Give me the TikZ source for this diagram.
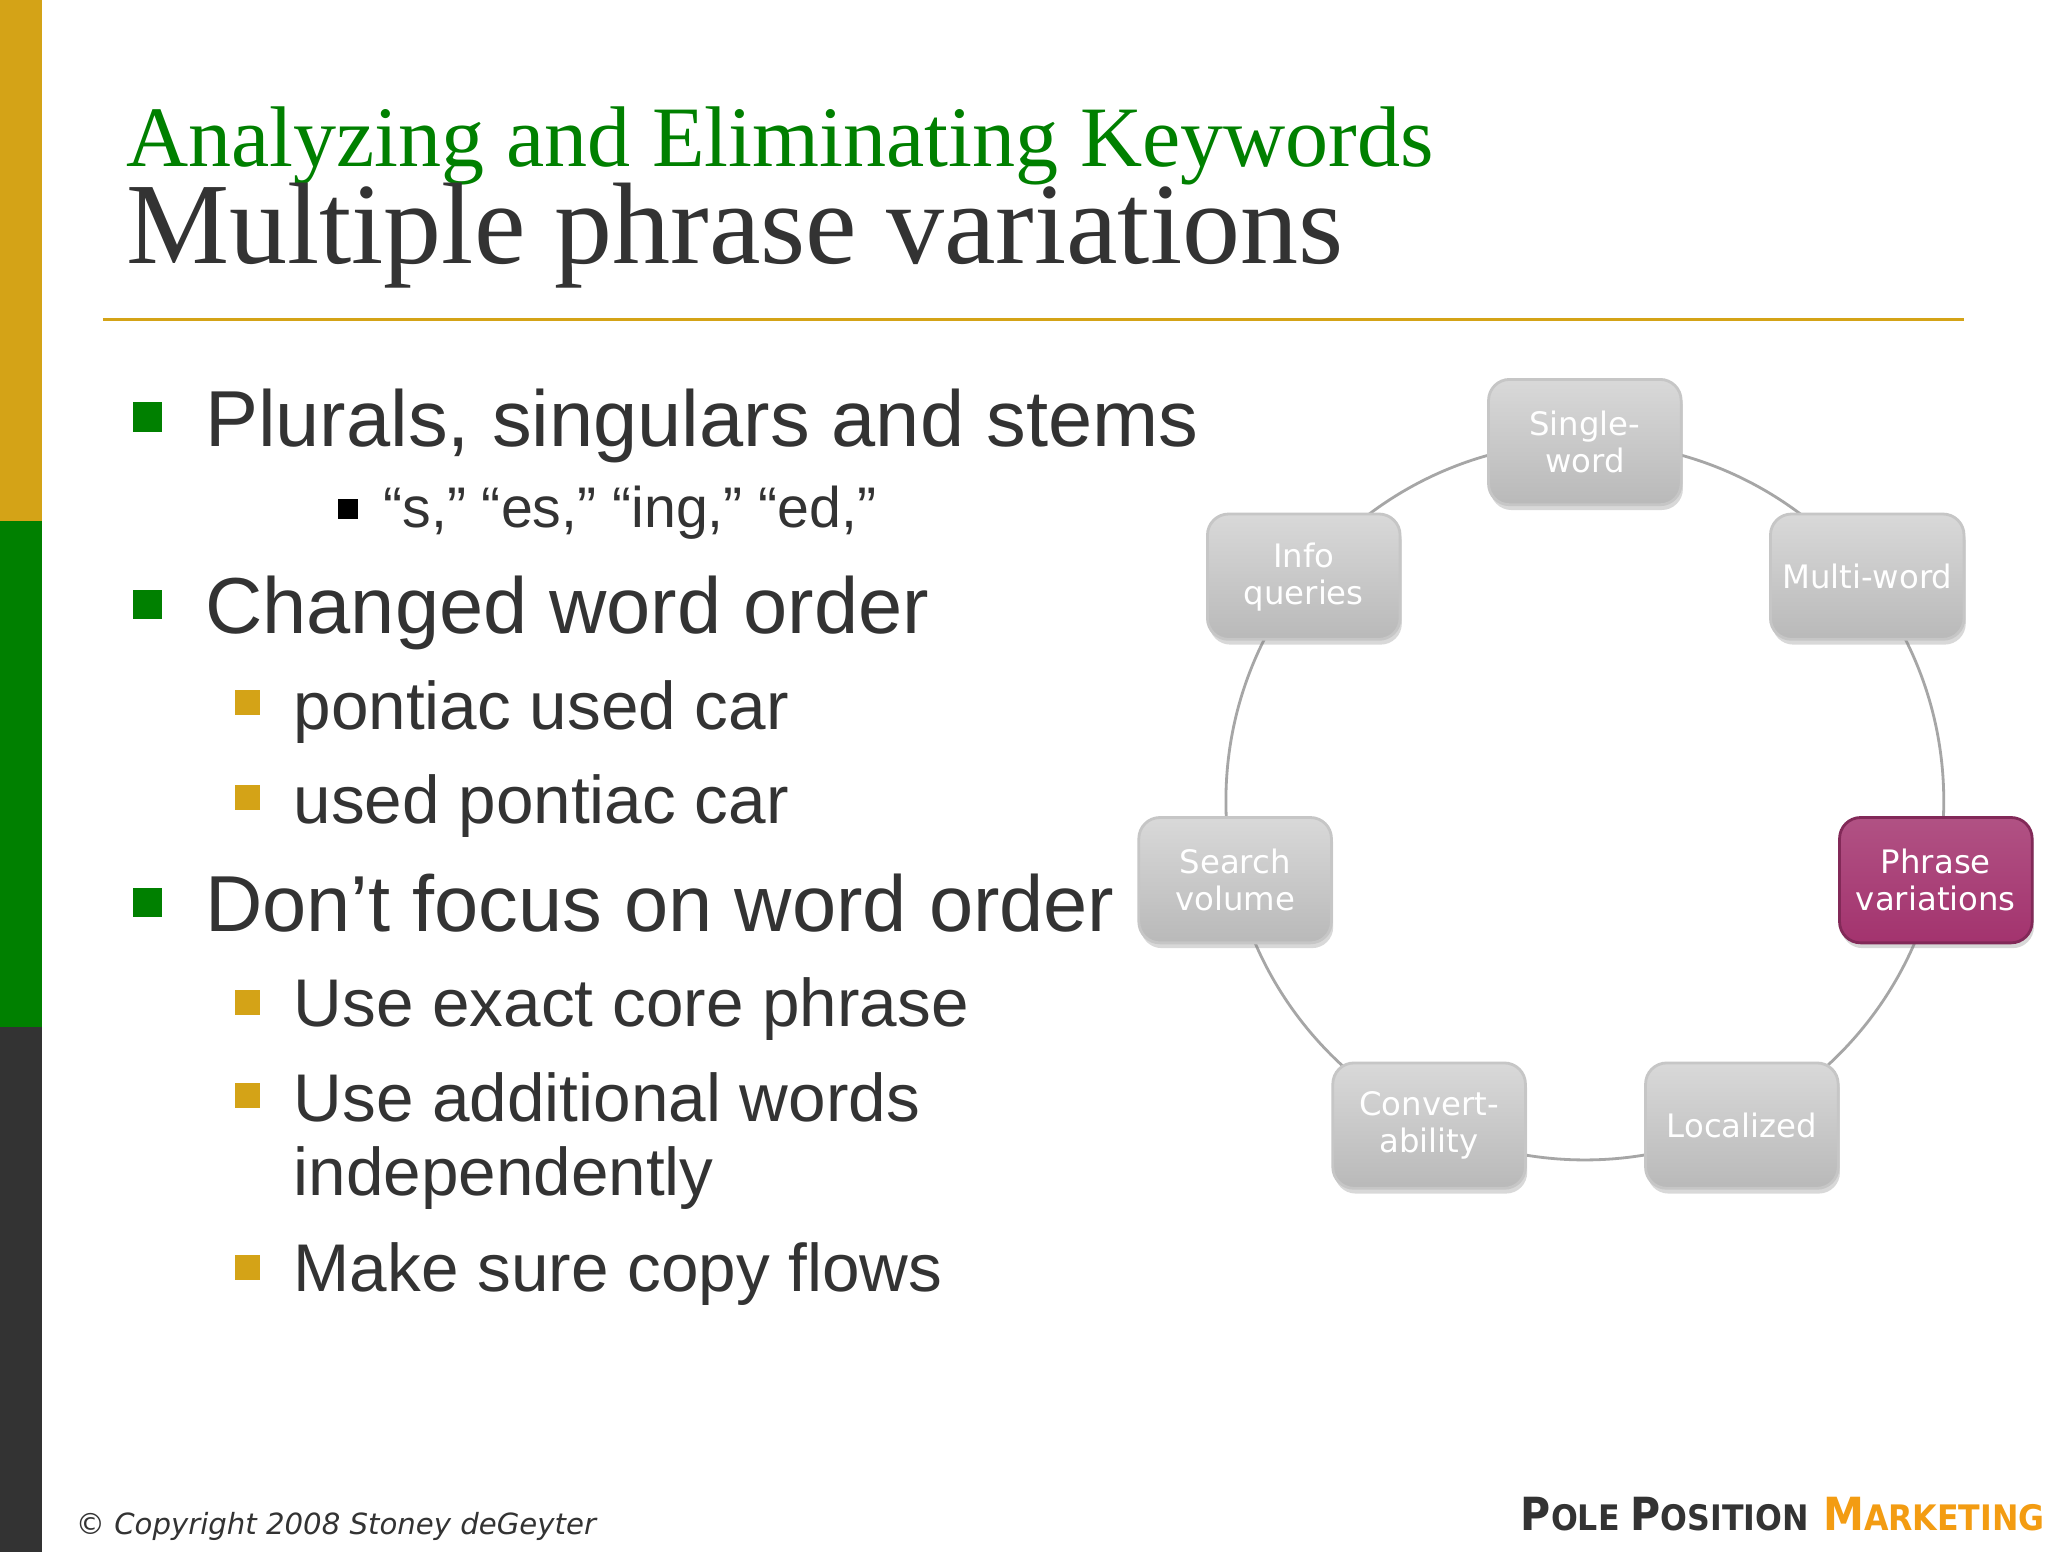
\documentclass[tikz,border=0pt]{standalone}
\usepackage{fontspec}
\setmainfont{Liberation Sans}
\newfontfamily\serifx{Liberation Serif}
\newfontfamily\dejav{DejaVu Sans}
\newfontfamily\logof{DejaVu Sans Condensed}
\usetikzlibrary{shadows}
\definecolor{gold}{HTML}{D4A317}
\definecolor{ggreen}{HTML}{008000}
\definecolor{dark}{HTML}{333333}
\definecolor{mag}{HTML}{A3336E}
\definecolor{orng}{HTML}{F39C12}
\begin{document}
\begin{tikzpicture}[x=0.013196cm,y=-0.013196cm,
  box/.style={rounded corners=6pt,minimum width=146*0.13196cm/10,minimum height=95*0.13196cm/10,
    top color=gray!30,bottom color=gray!55,draw=gray!45,line width=0.8pt,
    text=white,font=\dejav\fontsize{9.2pt}{10.5pt}\selectfont,align=center,
    drop shadow={opacity=0.3,shadow xshift=0.5pt,shadow yshift=-1.5pt}},
  pbox/.style={box,top color=mag!85,bottom color=mag,draw=mag!80!black},
  big/.style={anchor=base west,text=dark,font=\fontsize{22.6pt}{25pt}\selectfont,inner sep=0},
  mid/.style={anchor=base west,text=dark,font=\fontsize{19.2pt}{21pt}\selectfont,inner sep=0}]
\useasboundingbox (0,0) rectangle (1552,1176);
\fill[white] (0,0) rectangle (1552,1176);
\fill[gold] (0,0) rectangle (32,395);
\fill[ggreen] (0,395) rectangle (32,778);
\fill[dark] (0,778) rectangle (32,1176);
\node[anchor=base west,inner sep=0,text=ggreen,font=\serifx\fontsize{24.5pt}{26pt}\selectfont] (t1) at (95,126) {Analyzing and Eliminating Keywords};
\node[anchor=base west,inner sep=0,text=dark,font=\serifx\fontsize{33pt}{36pt}\selectfont] (t2) at (95,200) {Multiple phrase variations};
\draw[gold,line width=0.8pt] (78,242) -- (1488,242);
\foreach \y in {316,458,684} \fill[ggreen] (101,\y-11) rectangle +(22,22);
\fill[black] (256,378) rectangle +(15,15);
\foreach \y in {533,605,760,831,961} \fill[gold] (178,\y-10) rectangle +(19,19);
\node[big] (b1) at (155,338) {Plurals, singulars and stems};
\node[anchor=base west,inner sep=0,text=dark,font=\fontsize{16.3pt}{18pt}\selectfont] (s1) at (290,400) {“s,” “es,” “ing,” “ed,”};
\node[big] (b2) at (155,480) {Changed word order};
\node[mid] (c1) at (222,553) {pontiac used car};
\node[mid] (c2) at (222,624) {used pontiac car};
\node[big] (b3) at (155,706) {Don’t focus on word order};
\node[mid] (d1) at (222,778) {Use exact core phrase};
\node[mid] (d2) at (222,850) {Use additional words};
\node[mid] (d3) at (222,906) {independently};
\node[mid] (d4) at (222,979) {Make sure copy flows};
\draw[gray!70,line width=0.8pt] (1201,607) circle (272);
\node[box] (n1) at (1201,335) {Single-\\word};
\node[box] (n2) at (1415,437) {Multi-word};
\node[pbox] (n3) at (1467,667) {Phrase\\variations};
\node[box] (n4) at (1320,853) {Localized};
\node[box] (n5) at (1083,853) {Convert-\\ability};
\node[box] (n6) at (936,667) {Search\\volume};
\node[box] (n7) at (988,437) {Info\\queries};
\node[anchor=base west,inner sep=0,text=dark,font=\dejav\itshape\fontsize{8.3pt}{10pt}\selectfont] (cp) at (57,1163) {© Copyright 2008 Stoney deGeyter};
\node[anchor=base east,inner sep=0,font=\logof\bfseries\fontsize{13pt}{14pt}\selectfont] (lg) at (1550,1160) {\textcolor{dark}{P\fontsize{10pt}{11pt}\selectfont OLE \fontsize{13pt}{14pt}\selectfont P\fontsize{10pt}{11pt}\selectfont OSITION} \textcolor{orng}{\fontsize{13pt}{14pt}\selectfont M\fontsize{10pt}{11pt}\selectfont ARKETING}};
\end{tikzpicture}
\end{document}
